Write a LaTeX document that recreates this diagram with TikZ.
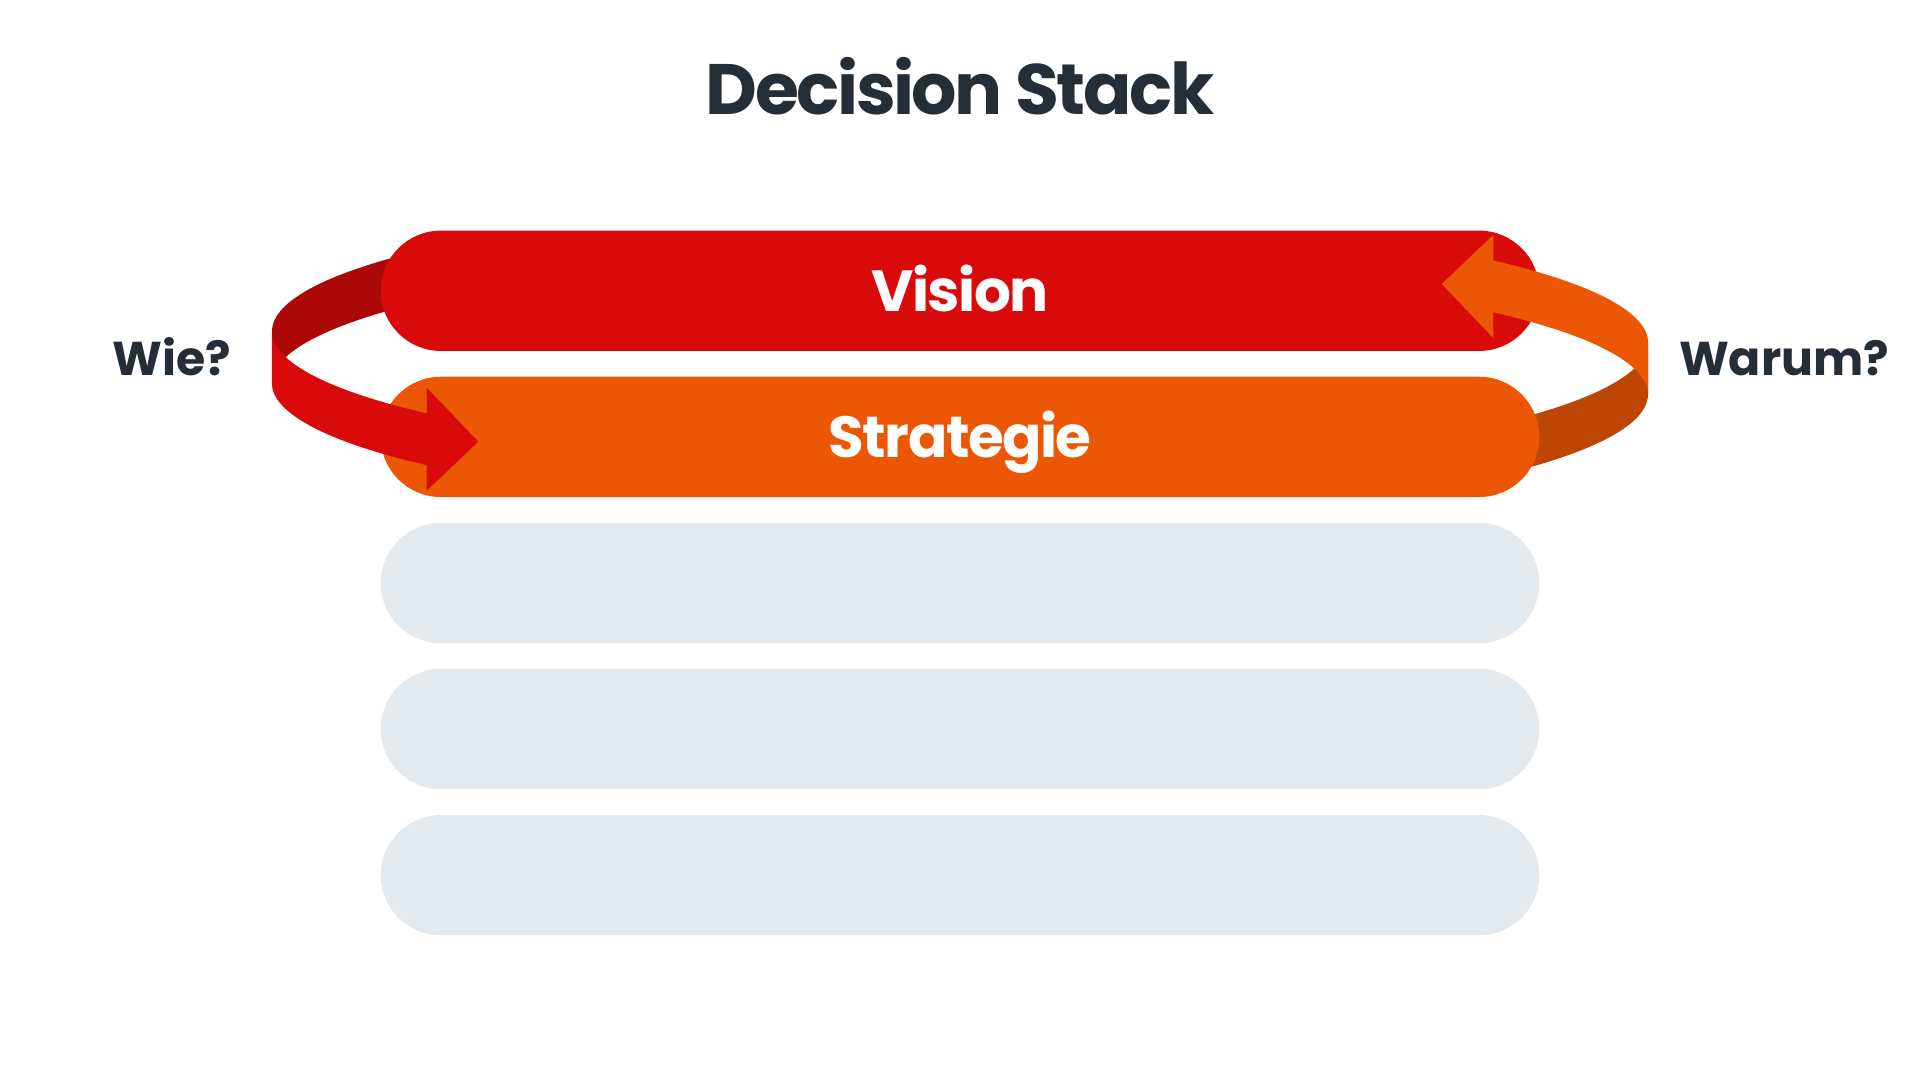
\documentclass[tikz,border=0pt]{standalone}
\usepackage{fontspec}
\setmainfont{Poppins}
\newfontfamily\barfont{Poppins}[LetterSpace=-2.5]
\newfontfamily\headfont{Poppins}[LetterSpace=-3.5]
\usepackage{tikz}
\usetikzlibrary{positioning}
\usetikzlibrary{shapes.misc}
\definecolor{vred}{rgb}{0.851, 0.039, 0.039}
\definecolor{vdark}{rgb}{0.678, 0.031, 0.031}
\definecolor{sorange}{rgb}{0.922, 0.341, 0.020}
\definecolor{sdark}{rgb}{0.745, 0.275, 0.020}
\definecolor{lgray}{rgb}{0.894, 0.914, 0.929}
\definecolor{ink}{rgb}{0.145, 0.176, 0.212}
\tikzset{bar/.style = {rounded rectangle, inner sep = 0, outer sep = 0, on grid, minimum width = 11.586cm, minimum height = 1.203cm, text = white, font = \barfont\bfseries\fontsize{16.5}{16.5}\selectfont, text height = 0.405cm, text depth = 0}}
\tikzset{ring/.style = {x radius = 6.88, y radius = 1.3}}
\tikzset{lbl/.style = {inner sep = 0, text = ink, font = \bfseries\fontsize{13.5}{13.5}\selectfont}}
\tikzset{headline/.style = {inner sep = 0, text = ink, font = \headfont\bfseries\fontsize{20.3}{20.3}\selectfont}}

\begin{document}
\begin{tikzpicture}
    \clip (0, 0) rectangle (19.2, 10.8);

    % back of the two loops
    \fill [vdark] (2.72, 7.487) arc [ring, start angle=180, end angle=140] -- ++(0, -0.517) arc [ring, start angle=140, end angle=180] -- cycle;
    \begin{scope}[rotate around={180:(9.6, 7.1715)}]
      \fill [sdark] (2.72, 7.487) arc [ring, start angle=180, end angle=140] -- ++(0, -0.517) arc [ring, start angle=140, end angle=180] -- cycle;
    \end{scope}

    % the stack
    \node [bar, fill=vred] (vision) at (9.6, 7.892) {Vision};
    \node [bar, fill=sorange, below=1.461cm of vision] (strategie) {Strategie};
    \node [bar, fill=lgray, below=1.461cm of strategie] (stack3) {};
    \node [bar, fill=lgray, below=1.461cm of stack3] (stack4) {};
    \node [bar, fill=lgray, below=1.461cm of stack4] (stack5) {};

    % front of the loops, with the heads
    \fill [vred] (2.72, 7.487) arc [ring, start angle=180, end angle=219.2] -- (4.267, 6.923) -- (4.783, 6.383) -- (4.267, 5.893) -- (4.267, 6.148) arc [ring, start angle=219.2, end angle=180] -- cycle;
    \begin{scope}[rotate around={180:(9.6, 7.1715)}]
      \fill [sorange] (2.72, 7.487) arc [ring, start angle=180, end angle=219.2] -- (4.267, 6.923) -- (4.783, 6.383) -- (4.267, 5.893) -- (4.267, 6.148) arc [ring, start angle=219.2, end angle=180] -- cycle;
    \end{scope}

    \node [lbl, anchor=base east] (wie) at (2.317, 7.043) {Wie?};
    \node [lbl, anchor=base west] (warum) at (16.783, 7.043) {Warum?};
    \node [headline, anchor=base] (head) at (9.6, 9.65) {Decision Stack};
  \end{tikzpicture}
\end{document}
